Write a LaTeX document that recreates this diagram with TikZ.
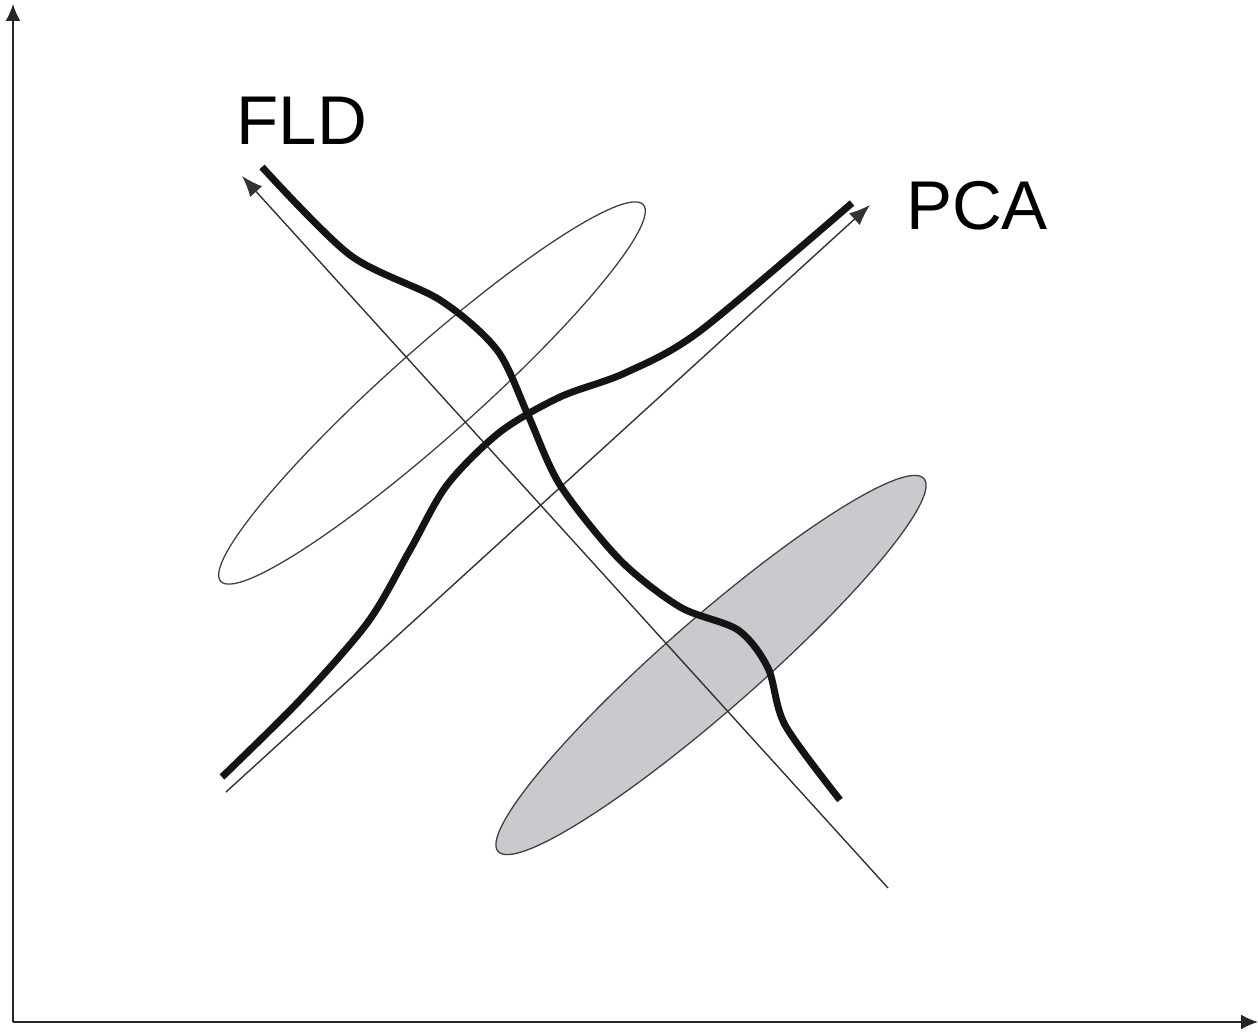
\documentclass[tikz,border=0pt]{standalone}
\usepackage{fontspec}
\setmainfont{Liberation Sans}
\usetikzlibrary{arrows.meta}
\definecolor{blobgray}{RGB}{201,201,206}

\begin{document}
\begin{tikzpicture}[x=1pt,y=-1pt,>={Latex[length=21pt,width=16pt]},
  thinline/.style={line width=1.4pt,draw=black!80,fill=black},
  axisline/.style={line width=1.8pt,draw=black!85,fill=black,-{Latex[length=17pt,width=15pt]}},
  thickcurve/.style={line width=7pt,draw=black!92},
  blob/.style={line width=1.3pt,draw=black!75},
  lbl/.style={font=\fontsize{69}{72}\selectfont,inner sep=0pt}]
\useasboundingbox (0,0) rectangle (1258,1032);
% axes
\coordinate (o) at (13,1022);
\coordinate (ytip) at (13,4);
\coordinate (xtip) at (1258,1022);
\draw[axisline] (o) -- (ytip);
\draw[axisline] (o) -- (xtip);
% class clouds
\draw[blob,fill=blobgray,rotate around={41.2:(711,665)}] (711,665) ellipse [x radius=283, y radius=46];
\draw[blob,rotate around={41.7:(432,393)}] (432,393) ellipse [x radius=283, y radius=44];
% projection directions
\coordinate (fld0) at (888,888);
\coordinate (fld1) at (242,176);
\coordinate (pca0) at (226,792);
\coordinate (pca1) at (870,205);
\draw[thinline,->] (fld0) -- (fld1);
\draw[thinline,->] (pca0) -- (pca1);
% projected densities
\draw[thickcurve] plot[smooth] coordinates {(262,167) (350,255) (440,300) (497,350) (528,415) (560,485) (620,560) (680,607) (738,630) (768,668) (785,725) (840,800)};
\draw[thickcurve] plot[smooth] coordinates {(222,777) (300,700) (368,622) (410,550) (447,485) (500,432) (560,397) (625,373) (700,331) (852,203)};
\node[lbl] (fld) at (302,121) {FLD};
\node[lbl] (pca) at (977,206) {PCA};
\end{tikzpicture}
\end{document}
